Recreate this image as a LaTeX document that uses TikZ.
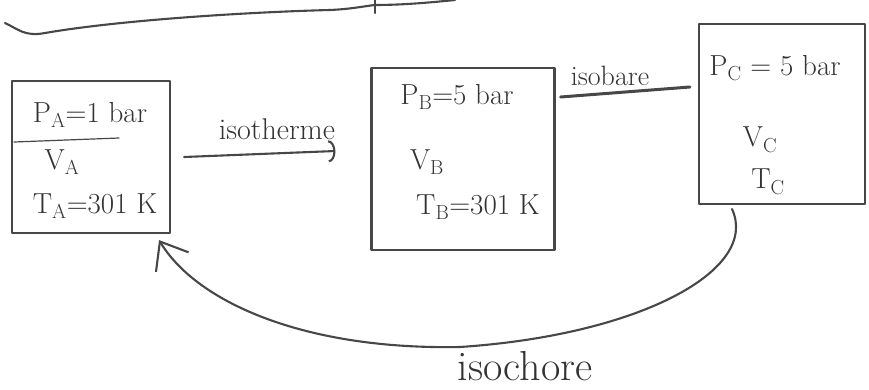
\documentclass[tikz,border=0pt]{standalone}
\usetikzlibrary{arrows.meta,calc}
\begin{document}
\begin{tikzpicture}[x=1pt,y=-1pt,
  ink/.style={draw=black!72, line width=2.1pt, line cap=round, line join=round},
  box/.style={ink, rectangle, inner sep=0pt},
  txt/.style={text=black!80, font=\fontsize{29}{33}\selectfont, inner sep=0pt},
  lbl/.style={text=black!80, font=\fontsize{30}{34}\selectfont, inner sep=0pt}]
\useasboundingbox (0,0) rectangle (869,389);

% boxes
\node[box, minimum width=158pt, minimum height=152pt] (A) at (91,157) {};
\node[box, minimum width=183pt, minimum height=182pt] (B) at (463,159) {};
\node[box, minimum width=166pt, minimum height=180pt] (C) at (782,114) {};

% box A texts
\node[txt] (pA) at (90,115) {P\textsubscript{A}=1 bar};
\node[txt] (vA) at (62,162) {V\textsubscript{A}};
\node[txt] (tA) at (95,206) {T\textsubscript{A}=301 K};
\draw[ink, line width=1.2pt] ($(A.west)+(3,-15)$) -- ($(A.west)+(108,-19)$);

% box B texts
\node[txt] (pB) at (457,97) {P\textsubscript{B}=5 bar};
\node[txt] (vB) at (427,162) {V\textsubscript{B}};
\node[txt] (tB) at (478,207) {T\textsubscript{B}=301 K};

% box C texts
\node[txt] (pC) at (775,68) {P\textsubscript{C} = 5 bar};
\node[txt] (vC) at (760,140) {V\textsubscript{C}};
\node[txt] (tC) at (768,182) {T\textsubscript{C}};

% connectors
\draw[ink, -{Arc Barb[length=7pt,width=22pt]}] ($(A.east)+(13,0)$) -- ($(B.west)+(-35,-8)$);
\node[lbl] (liso) at (277,129) {isotherme};

\draw[ink, line width=3pt] ($(B.east)+(5,-62)$) -- ($(C.west)+(-8,-27)$);
\node[lbl, font=\fontsize{28}{32}\selectfont] (lbar) at (610,76) {isobare};

\draw[ink, -{Straight Barb[length=24pt,width=38pt]}] ($(C.south)+(-50,4)$)
   .. controls (760,270) and (640,335) .. (460,347)
   .. controls (300,350) and (195,300) .. ($(A.south east)+(-12,6)$);
\node[lbl, font=\fontsize{42}{46}\selectfont] (lcho) at (525,366) {isochore};

% top brace (partially cut off)
\draw[ink] (5,23) .. controls (18,29) and (25,37) .. (45,33)
   .. controls (120,20) and (250,12) .. (330,10)
   .. controls (352,9) and (365,6) .. (375,5)
   .. controls (405,5) and (435,2) .. (455,0);
\draw[ink] (375,0) -- (375,13);
\end{tikzpicture}
\end{document}
